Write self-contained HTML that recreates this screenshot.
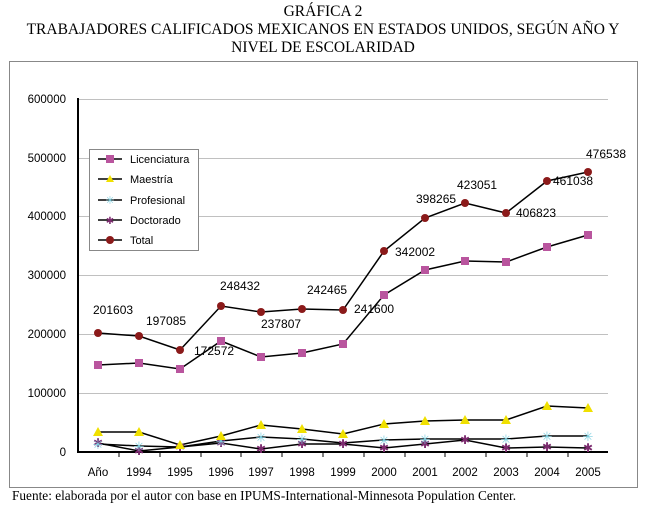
<!DOCTYPE html>
<html><head><meta charset="utf-8"><style>
body{margin:0;background:#fff;width:646px;height:506px;overflow:hidden}
svg{display:block}
</style></head><body>
<svg width="646" height="506" xmlns="http://www.w3.org/2000/svg" font-family="Liberation Sans, sans-serif">
<text x="323" y="16" text-anchor="middle" font-family="Liberation Serif, serif" font-size="15.5">GRÁFICA 2</text>
<text x="323" y="34" text-anchor="middle" font-family="Liberation Serif, serif" font-size="15.5">TRABAJADORES CALIFICADOS MEXICANOS EN ESTADOS UNIDOS, SEGÚN AÑO Y</text>
<text x="323" y="52" text-anchor="middle" font-family="Liberation Serif, serif" font-size="15.5">NIVEL DE ESCOLARIDAD</text>
<rect x="9.5" y="61.5" width="628" height="426" fill="none" stroke="#888" stroke-width="1"/>
<g stroke="#c0c0c0" stroke-width="1">
<line x1="78" x2="608" y1="99.5" y2="99.5"/><line x1="78" x2="608" y1="158.5" y2="158.5"/>
<line x1="78" x2="608" y1="216.5" y2="216.5"/><line x1="78" x2="608" y1="275.5" y2="275.5"/>
<line x1="78" x2="608" y1="334.5" y2="334.5"/><line x1="78" x2="608" y1="393.5" y2="393.5"/>
</g>
<line x1="78" y1="98" x2="78" y2="453" stroke="#000" stroke-width="2"/>
<line x1="77" y1="452" x2="608" y2="452" stroke="#000" stroke-width="2"/>
<g font-size="11.5" text-anchor="end">
<text x="66" y="103">600000</text><text x="66" y="162">500000</text><text x="66" y="220">400000</text>
<text x="66" y="279">300000</text><text x="66" y="338">200000</text><text x="66" y="397">100000</text><text x="66" y="456">0</text>
</g>
<g stroke="#000"><line x1="119" x2="119" y1="452" y2="457"/><line x1="160" x2="160" y1="452" y2="457"/><line x1="201" x2="201" y1="452" y2="457"/><line x1="241" x2="241" y1="452" y2="457"/><line x1="282" x2="282" y1="452" y2="457"/><line x1="323" x2="323" y1="452" y2="457"/><line x1="364" x2="364" y1="452" y2="457"/><line x1="405" x2="405" y1="452" y2="457"/><line x1="445" x2="445" y1="452" y2="457"/><line x1="486" x2="486" y1="452" y2="457"/><line x1="527" x2="527" y1="452" y2="457"/><line x1="568" x2="568" y1="452" y2="457"/></g>
<g font-size="11.5" text-anchor="middle">
<text x="98" y="476">Año</text><text x="139" y="476">1994</text><text x="180" y="476">1995</text><text x="221" y="476">1996</text><text x="261" y="476">1997</text><text x="302" y="476">1998</text><text x="343" y="476">1999</text><text x="384" y="476">2000</text><text x="425" y="476">2001</text><text x="465" y="476">2002</text><text x="506" y="476">2003</text><text x="547" y="476">2004</text><text x="588" y="476">2005</text>
</g>
<g fill="none" stroke="#000" stroke-width="1.5">
<polyline points="98,443 139,451 180,447 221,443 261,449 302,444 343,444 384,448 425,444 465,440 506,448 547,447 588,448"/>
<polyline points="98,444 139,446 180,447 221,441 261,437 302,439 343,443 384,440 425,439 465,439 506,439 547,436 588,436"/>
<polyline points="98,432 139,432 180,445 221,436 261,425 302,429 343,434 384,424 425,421 465,420 506,420 547,406 588,408"/>
<polyline points="98,365 139,363 180,369 221,341 261,357 302,353 343,344 384,295 425,270 465,261 506,262 547,247 588,235"/>
<polyline points="98,333 139,336 180,350 221,306 261,312 302,309 343,310 384,251 425,218 465,203 506,213 547,181 588,172"/>
</g>
<g fill="#7b2a6e" font-size="12" text-anchor="middle">
<text x="98" y="447">✱</text><text x="139" y="455">✱</text><text x="180" y="451">✱</text><text x="221" y="447">✱</text><text x="261" y="453">✱</text><text x="302" y="448">✱</text><text x="343" y="448">✱</text><text x="384" y="452">✱</text><text x="425" y="448">✱</text><text x="465" y="444">✱</text><text x="506" y="452">✱</text><text x="547" y="451">✱</text><text x="588" y="452">✱</text>
</g>
<g fill="#7ccfe0" font-size="13" text-anchor="middle">
<text x="98" y="449">✳</text><text x="139" y="451">✳</text><text x="221" y="446">✳</text><text x="261" y="442">✳</text><text x="302" y="444">✳</text><text x="384" y="445">✳</text><text x="425" y="444">✳</text><text x="506" y="444">✳</text><text x="547" y="441">✳</text><text x="588" y="441">✳</text>
</g>
<g fill="#f0e000">
<polygon points="98,427 103,436 93,436"/><polygon points="139,427 144,436 134,436"/><polygon points="180,440 185,449 175,449"/><polygon points="221,431 226,440 216,440"/><polygon points="261,420 266,429 256,429"/><polygon points="302,424 307,433 297,433"/><polygon points="343,429 348,438 338,438"/><polygon points="384,419 389,428 379,428"/><polygon points="425,416 430,425 420,425"/><polygon points="465,415 470,424 460,424"/><polygon points="506,415 511,424 501,424"/><polygon points="547,401 552,410 542,410"/><polygon points="588,403 593,412 583,412"/>
</g>
<g fill="#b9559e">
<rect x="94" y="361" width="8" height="8"/><rect x="135" y="359" width="8" height="8"/><rect x="176" y="365" width="8" height="8"/><rect x="217" y="337" width="8" height="8"/><rect x="257" y="353" width="8" height="8"/><rect x="298" y="349" width="8" height="8"/><rect x="339" y="340" width="8" height="8"/><rect x="380" y="291" width="8" height="8"/><rect x="421" y="266" width="8" height="8"/><rect x="461" y="257" width="8" height="8"/><rect x="502" y="258" width="8" height="8"/><rect x="543" y="243" width="8" height="8"/><rect x="584" y="231" width="8" height="8"/>
</g>
<g fill="#8b1a1a">
<circle cx="98" cy="333" r="4"/><circle cx="139" cy="336" r="4"/><circle cx="180" cy="350" r="4"/><circle cx="221" cy="306" r="4"/><circle cx="261" cy="312" r="4"/><circle cx="302" cy="309" r="4"/><circle cx="343" cy="310" r="4"/><circle cx="384" cy="251" r="4"/><circle cx="425" cy="218" r="4"/><circle cx="465" cy="203" r="4"/><circle cx="506" cy="213" r="4"/><circle cx="547" cy="181" r="4"/><circle cx="588" cy="172" r="4"/>
</g>
<g font-size="12">
<text x="93" y="314">201603</text><text x="146" y="325">197085</text><text x="194" y="355">172572</text><text x="220" y="290">248432</text><text x="261" y="328">237807</text><text x="307" y="294">242465</text><text x="354" y="313">241600</text><text x="395" y="256">342002</text><text x="416" y="203">398265</text><text x="457" y="189">423051</text><text x="516" y="217">406823</text><text x="553" y="185">461038</text><text x="586" y="158">476538</text>
</g>
<rect x="89.5" y="149.5" width="109" height="101" fill="#fff" stroke="#888"/>
<g stroke="#000" stroke-width="1.5"><line x1="98" x2="122" y1="159" y2="159"/><line x1="98" x2="122" y1="179" y2="179"/><line x1="98" x2="122" y1="200" y2="200"/><line x1="98" x2="122" y1="220" y2="220"/><line x1="98" x2="122" y1="240" y2="240"/></g>
<rect x="106" y="155" width="8" height="8" fill="#b9559e"/>
<polygon points="110,175 114,182 106,182" fill="#f0e000"/>
<text x="110" y="204" font-size="11" fill="#7ccfe0" text-anchor="middle">✳</text>
<text x="110" y="224" font-size="10" fill="#7b2a6e" text-anchor="middle">✱</text>
<circle cx="110" cy="240" r="4" fill="#8b1a1a"/>
<g font-size="11"><text x="130" y="163">Licenciatura</text><text x="130" y="183">Maestría</text><text x="130" y="204">Profesional</text><text x="130" y="224">Doctorado</text><text x="130" y="244">Total</text></g>
<text x="12" y="500" font-family="Liberation Serif, serif" font-size="13.3">Fuente: elaborada por el autor con base en IPUMS-International-Minnesota Population Center.</text>
</svg>
</body></html>
